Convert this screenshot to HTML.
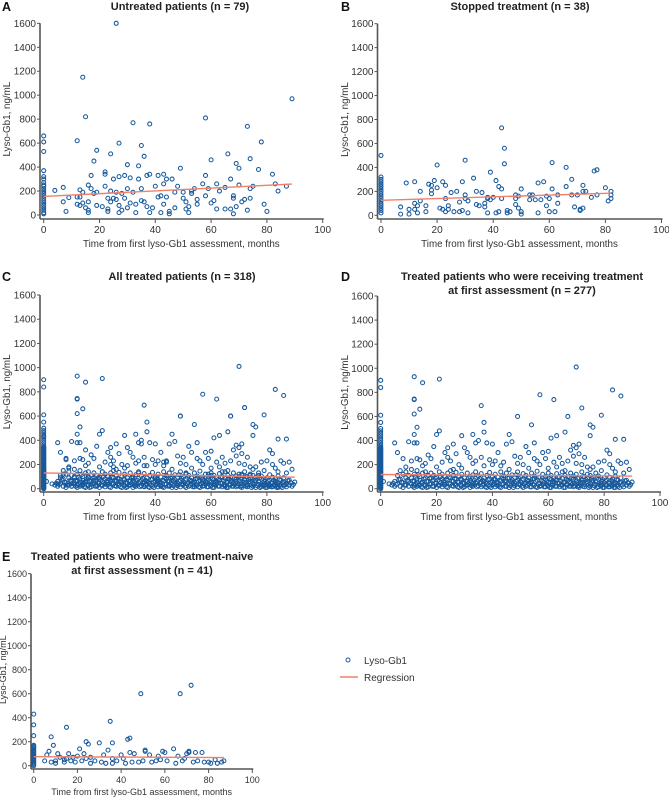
<!DOCTYPE html>
<html><head><meta charset="utf-8"><style>
body{margin:0;background:#fff}
svg{display:block;font-family:"Liberation Sans",sans-serif}
.tk{font-size:10px;fill:#333}
.ttl{font-size:11px;font-weight:bold;fill:#222}
.ax{font-size:9.8px;fill:#333}
.lg{font-size:10px;fill:#333}
.pl{font-size:12.5px;font-weight:bold;fill:#111}
</style></head><body>
<svg id="c" width="669" height="800" viewBox="0 0 669 800"></svg>
<script>
const yTicks=[0,200,400,600,800,1000,1200,1400,1600];
const xTicks=[0,20,40,60,80,100];
const colA0=[660,610,530,370,320,300,270,250,240,220,200,180,160,140,120,100,80,60,40,20,10];
const ptsA=[[4,205],[7,230],[7,110],[8,30],[9,145],[12,620],[12,150],[12,90],[13,210],[13,150],[13,80],[14,1150],[14,190],[14,100],[15,60],[15,820],[16,250],[16,40],[16,20],[16,110],[17,330],[17,220],[18,180],[18,450],[19,540],[19,190],[19,80],[21,70],[22,360],[22,340],[22,240],[23,140],[23,50],[23,30],[24,200],[24,510],[24,110],[25,140],[25,300],[26,1600],[26,190],[26,130],[27,600],[27,320],[27,80],[27,20],[28,180],[28,40],[29,330],[29,140],[30,420],[30,220],[30,60],[31,310],[31,100],[32,770],[32,190],[33,20],[33,90],[34,410],[34,300],[35,120],[35,220],[35,580],[36,490],[36,110],[37,330],[37,70],[38,340],[38,760],[38,20],[39,60],[40,240],[41,330],[41,150],[42,160],[42,20],[43,340],[43,260],[43,90],[44,300],[44,150],[45,30],[45,10],[46,300],[47,190],[47,60],[48,240],[49,390],[50,190],[50,140],[51,50],[51,110],[52,70],[52,20],[53,180],[53,200],[54,220],[55,130],[55,90],[57,260],[58,810],[58,330],[58,160],[59,220],[60,100],[60,460],[61,120],[62,260],[62,50],[63,200],[65,50],[65,230],[66,510],[67,300],[67,50],[68,10],[68,160],[68,140],[69,430],[69,70],[70,390],[70,250],[71,110],[72,130],[73,40],[73,740],[74,470],[74,220],[74,140],[75,240],[77,380],[78,610],[79,90],[80,30],[82,340],[83,260],[84,200],[87,240],[89,970]];
const regA=[[0,155],[89,258]];
const colB0=[500,320,300,280,260,240,220,200,180,160,140,120,100,80,60,40,20];
const ptsB=[[7,70],[7,10],[9,270],[10,50],[10,10],[12,280],[12,100],[12,50],[13,80],[13,20],[14,200],[14,120],[16,30],[16,80],[17,260],[18,250],[18,210],[18,180],[19,290],[20,420],[20,230],[21,60],[22,280],[22,50],[23,250],[23,140],[23,30],[24,80],[24,50],[25,190],[26,30],[27,200],[28,110],[28,30],[29,280],[29,40],[30,170],[30,460],[30,140],[31,120],[31,20],[33,310],[34,200],[34,90],[35,80],[36,190],[37,70],[37,100],[38,150],[38,20],[38,140],[39,360],[39,130],[40,150],[41,290],[41,20],[42,240],[42,30],[43,730],[43,220],[43,140],[44,560],[44,430],[45,40],[45,20],[46,30],[48,140],[48,90],[48,170],[49,160],[49,60],[50,220],[50,30],[50,10],[53,170],[53,130],[54,170],[55,130],[56,270],[56,20],[57,130],[58,280],[59,160],[59,80],[60,30],[60,140],[61,440],[61,220],[62,30],[63,100],[63,170],[66,400],[66,240],[68,170],[68,300],[69,70],[70,170],[71,40],[71,50],[72,250],[72,200],[72,60],[73,200],[75,150],[76,370],[77,380],[77,170],[80,230],[81,120],[82,200],[82,170],[82,140]];
const regB=[[0,125],[82,185]];
const colD0=[900,840,610,550,500,480,460,440,420,400,380,360,340,330,320,310,300,290,280,270,260,250,240,230,220,210,200,190,180,170,160,150,140,130,120,110,100,90,80,70,60,50,40,30,20,10,0,345,335,325,315,305,295,285,275,265,255,245,235,225,215,205,195,185,175,165,155,145,135,125,115,105,95,85,75,65,55,45,35,25,15,5];
const ptsDHigh=[[12,930],[12,740],[12,745],[12,620],[12,450],[12,380],[13,510],[13,380],[14,660],[15,880],[21,910],[21,480],[29,440],[33,450],[36,690],[37,550],[37,470],[46,450],[49,600],[54,530],[57,780],[62,740],[67,600],[70,1010],[72,670],[75,530],[75,440],[76,510],[79,610],[83,820],[86,770],[84,410],[87,410],[81,320],[82,290],[66,470],[63,440],[61,420],[55,380],[45,370],[47,390],[40,370],[35,400],[34,380],[26,370],[24,340],[20,450],[19,350],[10,390],[5,380],[6,300],[69,360],[70,340],[71,370],[71,290],[68,320],[38,380],[42,300],[52,350],[53,300],[58,300],[60,310],[64,260],[73,260],[78,220],[85,230],[88,220],[30,340],[31,300],[27,290],[23,300],[17,280],[8,250],[9,180],[11,230],[14,240],[16,210],[18,250],[22,220],[25,230],[28,200],[32,260],[33,210],[36,260],[39,240],[41,230],[43,190],[44,220],[48,270],[50,260],[51,200],[56,230],[57,200],[59,250],[62,220],[63,180],[65,210],[67,230],[69,270],[72,200],[74,180],[76,180],[80,230],[82,200],[84,140],[86,210],[89,160],[13,250],[15,190],[20,180],[24,260],[26,160],[29,170],[34,230],[37,190],[40,200],[46,160],[49,210],[53,170],[55,250],[60,170],[66,150],[70,210],[75,160],[79,150],[83,170],[87,130]];
const ptsDLow=[[4,30],[5,20],[5,60],[6,110],[6,40],[7,150],[7,80],[7,20],[8,120],[8,50],[8,10],[9,90],[9,30],[9,140],[10,60],[10,20],[10,110],[11,40],[11,160],[11,90],[12,10],[12,60],[12,120],[12,30],[13,80],[13,150],[13,20],[13,50],[14,100],[14,30],[14,70],[15,130],[15,10],[15,55],[16,90],[16,25],[16,140],[17,60],[17,110],[17,15],[18,40],[18,90],[18,130],[19,20],[19,70],[19,110],[20,45],[20,10],[20,95],[21,140],[21,60],[21,25],[22,80],[22,120],[22,15],[23,50],[23,100],[23,35],[24,70],[24,130],[24,10],[25,90],[25,40],[25,150],[26,20],[26,60],[26,110],[27,80],[27,30],[27,135],[28,55],[28,10],[28,100],[29,75],[29,25],[29,120],[30,45],[30,90],[30,15],[31,130],[31,60],[31,30],[32,100],[32,10],[32,70],[33,40],[33,115],[33,20],[34,85],[34,50],[34,140],[35,25],[35,70],[35,105],[36,15],[36,55],[36,125],[37,90],[37,35],[37,60],[38,10],[38,110],[38,45],[39,80],[39,20],[39,135],[40,60],[40,100],[40,30],[41,15],[41,75],[41,120],[42,50],[42,95],[42,25],[43,140],[43,65],[43,10],[44,40],[44,105],[44,80],[45,20],[45,60],[45,130],[46,90],[46,35],[46,10],[47,115],[47,55],[47,75],[48,25],[48,95],[48,45],[49,140],[49,15],[49,70],[50,100],[50,35],[50,60],[51,10],[51,125],[51,80],[52,50],[52,20],[52,110],[53,90],[53,40],[53,65],[54,15],[54,130],[54,55],[55,85],[55,30],[55,105],[56,10],[56,70],[56,145],[57,45],[57,95],[57,20],[58,120],[58,60],[58,35],[59,80],[59,15],[59,100],[60,50],[60,130],[60,25],[61,75],[61,110],[61,10],[62,40],[62,90],[62,60],[63,20],[63,125],[63,70],[64,45],[64,100],[64,15],[65,85],[65,30],[65,140],[66,55],[66,10],[66,110],[67,70],[67,35],[67,95],[68,20],[68,130],[68,50],[69,80],[69,15],[69,105],[70,40],[70,65],[70,120],[71,25],[71,90],[71,10],[72,55],[72,140],[72,75],[73,35],[73,100],[73,15],[74,60],[74,85],[74,120],[75,20],[75,45],[75,110],[76,70],[76,10],[76,95],[77,35],[77,130],[77,55],[78,15],[78,80],[78,105],[79,40],[79,60],[79,25],[80,90],[80,10],[80,50],[81,70],[81,115],[81,30],[82,45],[82,15],[82,95],[83,60],[83,25],[83,80],[84,10],[84,50],[84,105],[85,35],[85,70],[85,20],[86,55],[86,90],[87,15],[87,45],[88,30],[88,70],[89,20],[90,55],[1,60],[3,40]];
const ptsDLow2=[[4.5,45],[5.5,35],[6.5,75],[7.5,55],[8.5,30],[9.5,70],[10.5,45],[11.5,20],[11.5,65],[12.5,40],[12.5,95],[13.5,30],[13.5,115],[14.5,50],[14.5,15],[15.5,80],[15.5,35],[16.5,60],[16.5,10],[17.5,40],[17.5,85],[18.5,20],[18.5,65],[19.5,45],[19.5,90],[20.5,30],[20.5,70],[21.5,50],[21.5,100],[22.5,35],[22.5,60],[23.5,15],[23.5,80],[24.5,45],[24.5,95],[25.5,25],[25.5,65],[26.5,40],[26.5,85],[27.5,15],[27.5,55],[28.5,35],[28.5,80],[29.5,50],[29.5,10],[30.5,65],[30.5,30],[31.5,45],[31.5,90],[32.5,25],[32.5,55],[33.5,70],[33.5,35],[34.5,15],[34.5,60],[35.5,45],[35.5,85],[36.5,30],[36.5,70],[37.5,15],[37.5,50],[38.5,75],[38.5,30],[39.5,50],[39.5,10],[40.5,45],[40.5,80],[41.5,30],[41.5,55],[42.5,70],[42.5,15],[43.5,35],[43.5,90],[44.5,20],[44.5,60],[45.5,45],[45.5,85],[46.5,25],[46.5,65],[47.5,10],[47.5,40],[48.5,60],[48.5,115],[49.5,35],[49.5,85],[50.5,20],[50.5,50],[51.5,40],[51.5,95],[52.5,30],[52.5,70],[53.5,15],[53.5,50],[54.5,35],[54.5,80],[55.5,15],[55.5,60],[56.5,40],[56.5,95],[57.5,25],[57.5,70],[58.5,15],[58.5,50],[59.5,35],[59.5,65],[60.5,10],[60.5,85],[61.5,30],[61.5,55],[62.5,20],[62.5,75],[63.5,45],[63.5,95],[64.5,30],[64.5,65],[65.5,10],[65.5,50],[66.5,35],[66.5,80],[67.5,20],[67.5,55],[68.5,35],[68.5,90],[69.5,45],[69.5,25],[70.5,15],[70.5,85],[71.5,50],[71.5,35],[72.5,20],[72.5,100],[73.5,55],[73.5,75],[74.5,30],[74.5,10],[75.5,65],[75.5,85],[76.5,40],[76.5,25],[77.5,10],[77.5,90],[78.5,50],[78.5,30],[79.5,75],[79.5,10],[80.5,30],[80.5,65],[81.5,15],[81.5,50],[82.5,70],[82.5,30],[83.5,40],[83.5,10],[84.5,75],[84.5,30],[85.5,50],[85.5,10],[86.5,30],[87.5,65],[88.5,50],[89.5,35]];
const regD=[[0,118],[90,105]];
const colE0=[430,340,250,170,160,150,140,130,120,110,100,90,80,70,60,50,40,30,20,10,0];
const ptsE=[[5,40],[6,90],[7,120],[8,240],[8,30],[9,170],[10,20],[10,40],[11,100],[12,70],[14,30],[14,50],[15,320],[15,60],[16,100],[17,40],[18,70],[19,30],[20,80],[21,140],[22,40],[23,100],[24,200],[24,60],[25,180],[26,70],[26,20],[28,40],[30,190],[31,30],[32,90],[33,20],[34,130],[35,370],[36,190],[36,60],[36,20],[38,40],[40,90],[41,60],[42,20],[43,220],[44,230],[44,110],[45,30],[46,100],[48,30],[49,600],[50,40],[51,120],[51,130],[53,90],[54,30],[56,40],[57,80],[58,50],[59,120],[60,110],[61,40],[64,140],[65,20],[66,80],[67,600],[68,40],[69,60],[70,100],[71,120],[71,110],[72,670],[73,30],[74,110],[75,40],[77,110],[78,30],[80,30],[81,20],[83,50],[84,20],[86,30],[87,40]];
const regE=[[0,75],[87,68]];
const regC=[[0,130],[90,95]];

const NS='http://www.w3.org/2000/svg';
const svg=document.getElementById('c');
function mk(tag,attrs,parent){const e=document.createElementNS(NS,tag);for(const k in attrs)e.setAttribute(k,attrs[k]);(parent||svg).appendChild(e);return e;}
function txt(s,attrs,parent){const e=mk('text',attrs,parent);e.textContent=s;return e;}

function panel(cfg){
  const g=mk('g',{});
  
  
  const sx=v=>cfg.x0+(cfg.x1-cfg.x0)*v/100;
  const sy=v=>cfg.y0-(cfg.y0-cfg.y1)*v/1600;
  const axL=cfg.axX, axB=cfg.axY;
  const fs=cfg.fs||'';
  const ya=mk('line',{x1:axL,y1:sy(1600),x2:axL,y2:axB,stroke:'#555','stroke-width':1.6},g);
  
  
  const xa=mk('line',{x1:axL,y1:axB,x2:sx(100)+1,y2:axB,stroke:'#555','stroke-width':1.6},g);
  
  
  yTicks.forEach(t=>{
    mk('line',{x1:axL-3,y1:sy(t),x2:axL,y2:sy(t),stroke:'#555'},g);
    const l=txt(String(t),{x:axL-4,y:sy(t)+3.5,'text-anchor':'end',class:'tk',style:fs},g);
    
    
  });
  xTicks.forEach(t=>{
    mk('line',{x1:sx(t),y1:axB,x2:sx(t),y2:axB+4,stroke:'#555'},g);
    const l=txt(String(t),{x:sx(t),y:axB+14,'text-anchor':'middle',class:'tk',style:fs},g);
    
    
  });
  const xt=txt('Time from first lyso-Gb1 assessment, months',{x:(axL+sx(100))/2,y:axB+cfg.xto,'text-anchor':'middle',class:'ax',style:fs},g);
  
  
  const ym=(sy(0)+sy(1600))/2;
  const yt=txt('Lyso-Gb1, ng/mL',{x:cfg.ytx,y:ym,'text-anchor':'middle',class:'ax',style:fs,transform:`rotate(-90 ${cfg.ytx} ${ym})`},g);
  
  
  cfg.title.forEach((s,i)=>{
    const t=txt(s,{x:cfg.tx,y:cfg.ty+i*14,'text-anchor':'middle',class:'ttl'},g);
    
    
  });
  const pl=txt(cfg.label,{x:cfg.lx,y:cfg.ly,class:'pl'},g);
  
  
  const pts=[];
  cfg.col.forEach(v=>pts.push([0,v]));
  cfg.pts.forEach(p=>pts.push(p));
  pts.forEach(p=>{
    const c=mk('circle',{cx:sx(p[0]),cy:sy(p[1]),r:2,fill:'none',stroke:'#17599c','stroke-width':1.05},g);
    
    
  });
  const r=mk('line',{x1:sx(cfg.reg[0][0]),y1:sy(cfg.reg[0][1]),x2:sx(cfg.reg[1][0]),y2:sy(cfg.reg[1][1]),stroke:'#f0806a','stroke-width':1.4},g);
  
  
}
panel({id:'panel-a-untreated',label:'A',lx:2,ly:11,title:['Untreated patients (n = 79)'],tx:180,ty:10,x0:43.7,x1:322.7,y0:215,y1:23.3,axX:40,axY:219,ytx:10,xto:28,col:colA0,pts:ptsA,reg:regA});
panel({id:'panel-b-stopped',label:'B',lx:341,ly:11,title:['Stopped treatment (n = 38)'],tx:520,ty:10,x0:381,x1:661.5,y0:215.3,y1:23.7,axX:377.5,axY:219,ytx:348,xto:28,col:colB0,pts:ptsB,reg:regB});
panel({id:'panel-c-all-treated',label:'C',lx:2,ly:281,title:['All treated patients (n = 318)'],tx:182,ty:280,x0:43.7,x1:322.7,y0:488.7,y1:295,axX:40,axY:492,ytx:10,xto:28,col:colD0.concat(colE0),pts:ptsDHigh.concat(ptsDLow,ptsDLow2,ptsE),reg:regC});
panel({id:'panel-d-receiving',label:'D',lx:341,ly:281,title:['Treated patients who were receiving treatment','at first assessment (n = 277)'],tx:522,ty:280,x0:380.7,x1:660,y0:488.7,y1:296,axX:377.5,axY:492,ytx:348,xto:28,col:colD0,pts:ptsDHigh.concat(ptsDLow,ptsDLow2),reg:regD});
panel({id:'panel-e-naive',label:'E',lx:2,ly:561,title:['Treated patients who were treatment-naive','at first assessment (n = 41)'],tx:142,ty:560,x0:33.7,x1:252.3,y0:765.7,y1:573.7,axX:31,axY:769,ytx:6,xto:26,fs:'font-size:9px',col:colE0,pts:ptsE,reg:regE});

const lg=mk('g',{});


const lc=mk('circle',{cx:348,cy:660,r:2,fill:'none',stroke:'#17599c'},lg);


const lt1=txt('Lyso-Gb1',{x:364,y:664,class:'lg'},lg);


const ll=mk('line',{x1:340,y1:677,x2:358,y2:677,stroke:'#f0806a','stroke-width':1.6},lg);


const lt2=txt('Regression',{x:364,y:681,class:'lg'},lg);


</script>
</body></html>
